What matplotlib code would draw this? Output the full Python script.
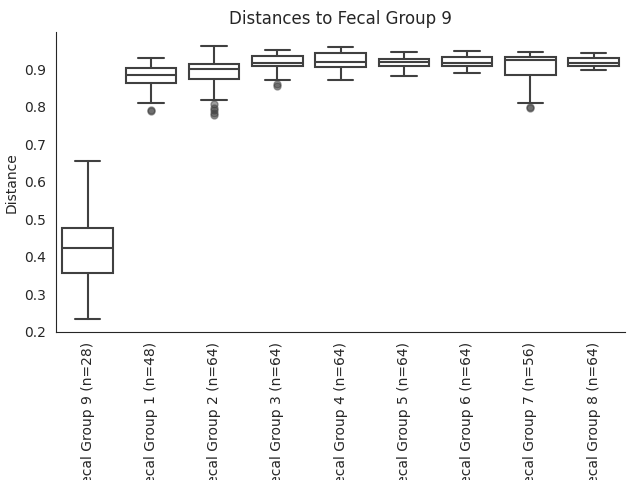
import matplotlib
matplotlib.use("Agg")
import matplotlib.pyplot as plt
import seaborn as sns

sns.set_style("white")

groups = ['Fecal Group 9 (n=28)', 'Fecal Group 1 (n=48)', 'Fecal Group 2 (n=64)',
          'Fecal Group 3 (n=64)', 'Fecal Group 4 (n=64)', 'Fecal Group 5 (n=64)',
          'Fecal Group 6 (n=64)', 'Fecal Group 7 (n=56)', 'Fecal Group 8 (n=64)']

# box statistics
whislo = [0.235, 0.809, 0.818, 0.871, 0.871, 0.882, 0.890, 0.810, 0.897]
q1 = [0.357, 0.864, 0.873, 0.908, 0.906, 0.908, 0.908, 0.885, 0.909]
med = [0.424, 0.884, 0.899, 0.915, 0.919, 0.920, 0.915, 0.923, 0.917]
q3 = [0.477, 0.903, 0.913, 0.936, 0.943, 0.926, 0.931, 0.933, 0.930]
whishi = [0.655, 0.930, 0.962, 0.951, 0.958, 0.945, 0.949, 0.945, 0.943]
fliers = [[], [0.787, 0.792], [0.806, 0.797, 0.790, 0.783, 0.777],
          [0.856, 0.860], [], [], [], [0.795, 0.798], []]

stats = []
for i in range(len(groups)):
    stats.append({'whislo': whislo[i], 'q1': q1[i], 'med': med[i], 'q3': q3[i],
                  'whishi': whishi[i], 'fliers': fliers[i], 'label': groups[i]})

line = '#404040'
fig, ax = plt.subplots(figsize=(6.4, 4.8), dpi=100)
ax.bxp(stats, positions=range(len(groups)), widths=0.8, patch_artist=True,
       boxprops=dict(facecolor='white', edgecolor=line, linewidth=1.5),
       medianprops=dict(color=line, linewidth=1.5),
       whiskerprops=dict(color=line, linewidth=1.5),
       capprops=dict(color=line, linewidth=1.5),
       flierprops=dict(marker='o', markerfacecolor=line, markeredgecolor=line,
                       markersize=5, alpha=0.5))

ax.set_xlim(-0.5, len(groups) - 0.5)
ax.set_xticks(range(len(groups)))
ax.set_xticklabels(groups, rotation=90)
ax.set_ylabel('Distance')
ax.set_title('Distances to Fecal Group 9')
sns.despine(ax=ax)
plt.subplots_adjust(left=0.0875, right=0.977, top=0.933, bottom=0.308)
plt.savefig('out.png')
